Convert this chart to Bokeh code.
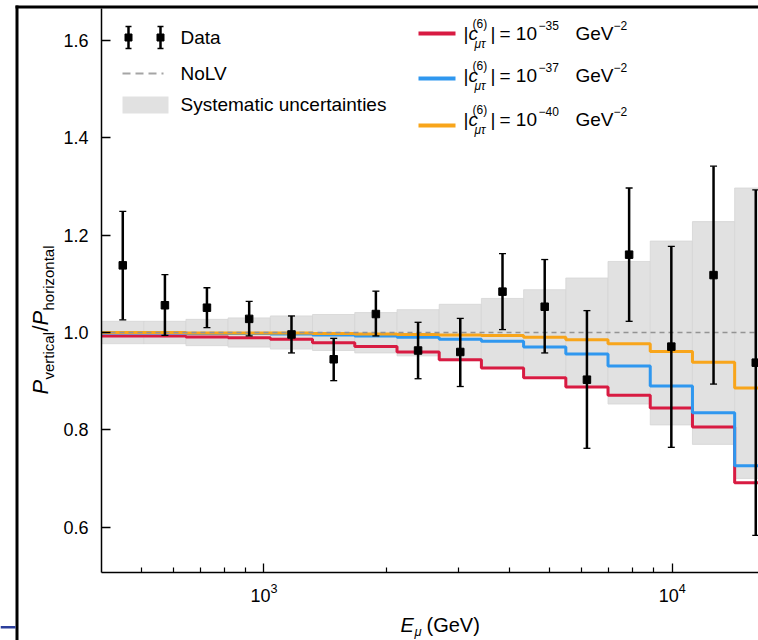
import math
from bokeh.plotting import figure
from bokeh.models import Range1d, Label, FixedTicker, PrintfTickFormatter
from bokeh.embed import file_html
from bokeh.resources import INLINE

# Muon energy bins (GeV): edges and logarithmic bin centres
bin_edges = [400, 508, 644, 817, 1037, 1315, 1669, 2118, 2687, 3409,
             4325, 5488, 6963, 8835, 11210, 14223, 18046]
bin_centres = [451, 572, 725, 920, 1168, 1482, 1880, 2385, 3026, 3840,
               4872, 6182, 7843, 9951, 12626, 16020]

# Measured vertical/horizontal ratio with error bar ends
ratio = [1.138, 1.056, 1.051, 1.028, 0.996, 0.945, 1.038, 0.963,
         0.960, 1.084, 1.053, 0.903, 1.160, 0.971, 1.118, 0.938]
ratio_hi = [1.249, 1.119, 1.092, 1.064, 1.034, 0.988, 1.085, 1.021,
            1.029, 1.162, 1.150, 1.045, 1.297, 1.177, 1.342, 1.293]
ratio_lo = [1.026, 0.994, 1.010, 0.993, 0.958, 0.901, 0.993, 0.905,
            0.889, 1.006, 0.958, 0.762, 1.023, 0.764, 0.894, 0.583]

# Systematic uncertainty band
sys_hi = [1.023, 1.023, 1.027, 1.030, 1.034, 1.037, 1.041, 1.047,
          1.058, 1.070, 1.088, 1.112, 1.146, 1.188, 1.228, 1.297]
sys_lo = [0.977, 0.977, 0.973, 0.970, 0.966, 0.963, 0.958, 0.952,
          0.942, 0.930, 0.912, 0.888, 0.853, 0.810, 0.770, 0.700]

# LV predictions for three |c_mutau^(6)| values
lv_35 = [0.993, 0.993, 0.991, 0.989, 0.986, 0.979, 0.971, 0.960,
         0.944, 0.927, 0.907, 0.888, 0.871, 0.845, 0.806, 0.691]
lv_37 = [0.999, 0.999, 0.998, 0.998, 0.997, 0.995, 0.993, 0.990,
         0.986, 0.982, 0.970, 0.956, 0.931, 0.890, 0.835, 0.726]
lv_40 = [1.000, 1.000, 0.999, 0.999, 0.999, 0.998, 0.997, 0.996,
         0.995, 0.994, 0.990, 0.985, 0.977, 0.961, 0.939, 0.886]
nolv = 1.0

x_ticks = [1000, 10000]
x_minor = [500, 600, 700, 800, 900, 2000, 3000, 4000, 5000, 6000, 7000, 8000, 9000]
y_ticks = [0.6, 0.8, 1.0, 1.2, 1.4, 1.6]

RED, BLUE, ORANGE = "#d81b42", "#2f97ef", "#f8a51b"
BAND, BAND_EDGE, DASH = "#e1e1e1", "#d5d5d5", "#939393"
FONT = "Liberation Sans"

# ---- main panel -------------------------------------------------------
p = figure(width=758, height=640, x_axis_type="log",
           x_range=Range1d(400, 16270), y_range=Range1d(0.5067, 1.666),
           output_backend="svg", toolbar_location=None,
           min_border_left=101, min_border_right=0, min_border_top=8,
           min_border_bottom=68)
p.grid.visible = False
p.outline_line_color = None

for ax in (p.xaxis[0], p.yaxis[0]):
    ax.axis_line_width = 1.5
    ax.axis_line_color = "black"
    ax.major_tick_line_color = "black"
    ax.major_tick_line_width = 1.3
    ax.major_tick_out = 0
    ax.major_tick_in = 9
    ax.major_label_text_font = FONT
    ax.major_label_text_font_size = "18px"
    ax.major_label_text_color = "black"

p.xaxis.ticker = FixedTicker(ticks=x_ticks, minor_ticks=x_minor)
p.xaxis.minor_tick_in = 5
p.xaxis.minor_tick_out = 0
p.xaxis.minor_tick_line_color = "black"
p.xaxis.minor_tick_line_width = 1.2
p.xaxis.major_label_standoff = 10

p.yaxis.ticker = FixedTicker(ticks=y_ticks)
p.yaxis.formatter = PrintfTickFormatter(format="%.1f")
p.yaxis.minor_tick_line_color = None
p.yaxis.major_label_standoff = 13

# systematic band
p.quad(left=bin_edges[:-1], right=bin_edges[1:], bottom=sys_lo, top=sys_hi,
       fill_color=BAND, line_color=BAND_EDGE, line_width=0.8)

# LV model steps
for vals, col in ((lv_35, RED), (lv_37, BLUE), (lv_40, ORANGE)):
    p.step(x=bin_edges, y=vals + [vals[-1]], mode="after",
           line_color=col, line_width=3)

# no-LV expectation
p.line(x=[bin_edges[0], bin_edges[-1]], y=[nolv, nolv],
       line_color=DASH, line_dash="5 4", line_width=1.5)

# data with error bars
p.segment(x0=bin_centres, y0=ratio_lo, x1=bin_centres, y1=ratio_hi,
          line_color="black", line_width=2.5)
p.scatter(x=bin_centres + bin_centres, y=ratio_lo + ratio_hi, marker="dash",
          size=7, line_color="black", line_width=1.3)
p.scatter(x=bin_centres, y=ratio, marker="square", size=7.5,
          fill_color="black", line_color="black")

# ---- overlay in page pixels: key, composed titles, frame lines ---------
q = figure(width=758, height=640, x_range=Range1d(0, 758),
           y_range=Range1d(640, 0), output_backend="svg",
           toolbar_location=None, min_border=0,
           x_axis_location=None, y_axis_location=None)
q.grid.visible = False
q.outline_line_color = None
q.background_fill_color = None
q.border_fill_color = None
q.styles = {"margin-top": "-640px"}

# frame lines
q.quad(left=[15, 15, 0], right=[18, 758, 15], top=[5, 5, 625.5],
       bottom=[640, 8, 628], fill_color=["black", "black", "#2c3f9c"],
       line_color=None)

# key (left block)
for kx in (128, 160):
    q.segment(x0=[kx], y0=[26], x1=[kx], y1=[48], line_color="black",
              line_width=2.5)
    q.scatter(x=[kx, kx], y=[26, 48], marker="dash", size=6,
              line_color="black", line_width=1.3)
    q.scatter(x=[kx], y=[37], marker="square", size=7, fill_color="black",
              line_color="black")
q.line(x=[122, 163], y=[73, 73], line_color="#a5a5a5", line_dash="8 5",
       line_width=1.8)
q.quad(left=[122], right=[168], top=[96], bottom=[113], fill_color=BAND,
       line_color=None)

# key (right block)
for ly, col in ((33, RED), (78, BLUE), (125, ORANGE)):
    q.line(x=[418, 455], y=[ly, ly], line_color=col, line_width=4)


def put(text, x, y, size=19, style="normal", angle=0.0, align="left"):
    q.add_layout(Label(x=x, y=y, text=text, text_font=FONT,
                       text_font_size=f"{size}px", text_font_style=style,
                       text_color="black", text_align=align,
                       text_baseline="middle", angle=angle))


put("Data", 180, 37)
put("NoLV", 180, 73)
put("Systematic uncertainties", 180, 104)

for yc, ex in ((33, "\u221235"), (75, "\u221237"), (119, "\u221240")):
    put("|", 463, yc)
    put("c", 468, yc, style="italic")
    put("(6)", 472, yc - 10, size=12)
    put("\u03bc\u03c4", 474, yc + 10, size=12, style="italic")
    put("|", 490, yc)
    put("= 10", 499, yc)
    put(ex, 538, yc - 8, size=12)
    put("GeV", 575, yc)
    put("\u22122", 613, yc - 8, size=12)

# x-axis title
put("E", 400, 624, size=20, style="italic")
put("\u03bc", 414, 631, size=13, style="italic")
put("(GeV)", 426, 624, size=20)

# y-axis title, read bottom to top
A = math.pi / 2
put("P", 40, 394, size=22, style="italic", angle=A)
put("vertical", 48, 379, size=15, angle=A)
put("/", 40, 331, size=22, angle=A)
put("P", 40, 325, size=22, style="italic", angle=A)
put("horizontal", 48, 310, size=15, angle=A)

# two independent roots: the overlay sits on top of the main panel
open("out.html", "w").write(file_html([p, q], INLINE))
